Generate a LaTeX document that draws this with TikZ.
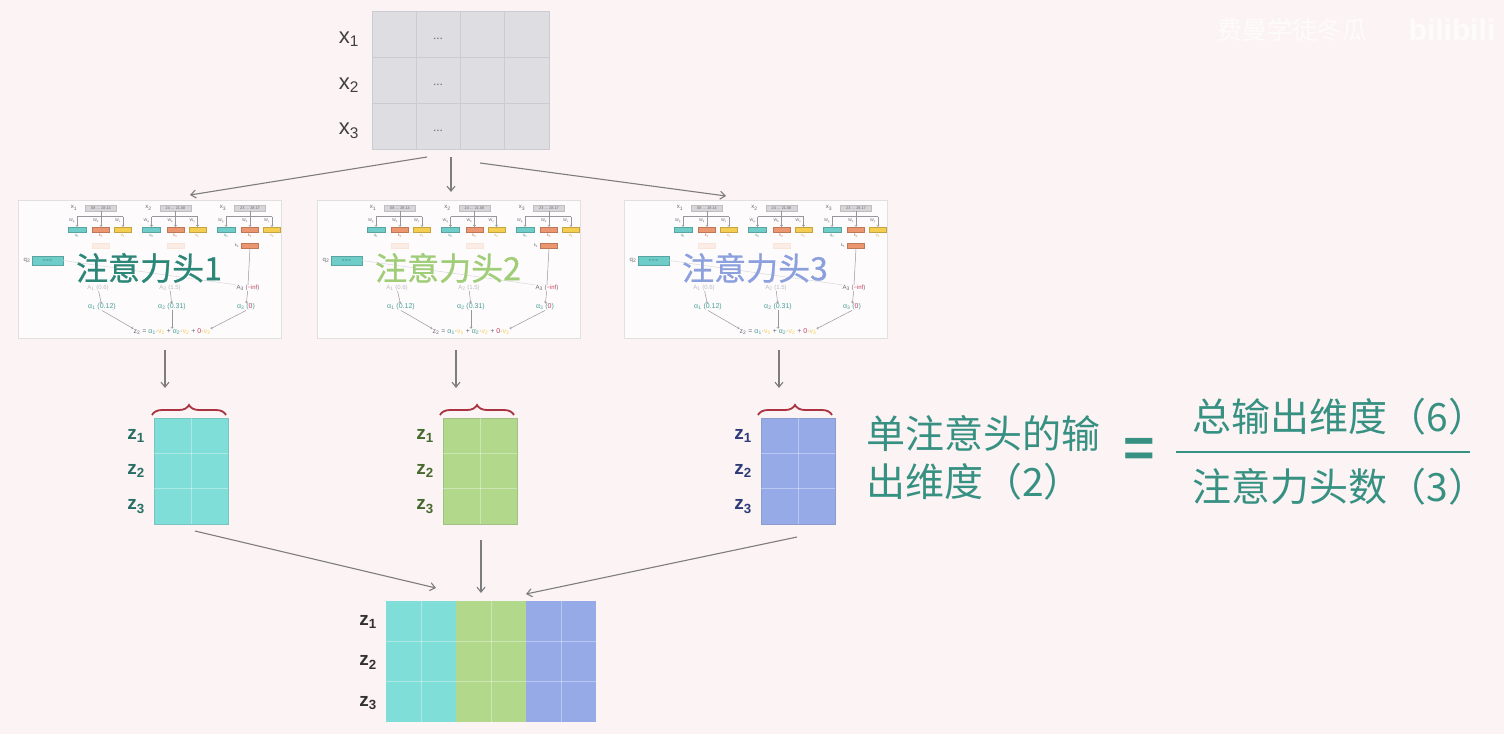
\documentclass[tikz,border=0pt]{standalone}
\usepackage{fontspec}
\setmainfont{Liberation Sans}
\newfontfamily\cjk{Noto Sans CJK SC}
\newfontfamily\cjkt[FakeBold=0.8]{Noto Sans CJK SC}
\usetikzlibrary{arrows.meta,decorations.pathreplacing,calc}
\definecolor{bgc}{RGB}{252,243,244}
\definecolor{topfill}{RGB}{222,221,226}
\definecolor{topgrid}{RGB}{204,203,209}
\definecolor{tealf}{RGB}{128,222,216}
\definecolor{greenf}{RGB}{178,216,140}
\definecolor{bluef}{RGB}{150,170,232}
\definecolor{tealtxt}{RGB}{45,135,120}
\definecolor{eqtxt}{RGB}{55,145,130}
\definecolor{greentitle}{RGB}{160,205,120}
\definecolor{bluetitle}{RGB}{140,160,222}
\definecolor{zteal}{RGB}{40,110,100}
\definecolor{zgreen}{RGB}{70,105,45}
\definecolor{zblue}{RGB}{45,60,120}
\definecolor{arrgray}{RGB}{125,125,128}
\definecolor{bracec}{RGB}{170,50,65}
\definecolor{minigray}{RGB}{105,105,115}
\definecolor{miniteal}{RGB}{110,205,200}
\definecolor{miniorange}{RGB}{235,150,110}
\definecolor{miniyellow}{RGB}{245,205,80}
\definecolor{alphateal}{RGB}{70,160,150}
\definecolor{infred}{RGB}{200,60,90}
\definecolor{xboxc}{RGB}{215,213,218}
\tikzset{
  headbox/.style={draw=black!12,fill=white!70!bgc,line width=0.8pt,minimum width=263,minimum height=138,inner sep=0},
  arr/.style={draw=arrgray,line width=1.1pt,-{Straight Barb[length=5pt,width=8pt]}},
  mline/.style={draw=minigray!70,line width=0.5pt},
  marr/.style={draw=minigray!70,line width=0.5pt,-{Straight Barb[length=1.5pt,width=2.5pt]}},
  faintl/.style={draw=minigray!25,line width=0.5pt},
  mtxt/.style={inner sep=0,font=\fontsize{6}{7}\selectfont,text=minigray},
  wtxt/.style={inner sep=0,font=\fontsize{4}{4.5}\selectfont,text=minigray},
  atxt/.style={inner sep=0,font=\fontsize{7}{8}\selectfont,text=alphateal},
  xbox/.style={fill=xboxc,draw=black!25,line width=0.3pt,minimum width=31,minimum height=5.5,inner sep=0,font=\fontsize{3.8}{4}\selectfont,text=black!60},
  qb/.style={fill=miniteal,draw=miniteal!80!black,line width=0.3pt,minimum width=18,minimum height=5,inner sep=0},
  kb/.style={fill=miniorange,draw=miniorange!80!black,line width=0.3pt,minimum width=17,minimum height=5,inner sep=0},
  vb/.style={fill=miniyellow,draw=miniyellow!80!black,line width=0.3pt,minimum width=17,minimum height=5,inner sep=0},
  kfaint/.style={fill=miniorange!18,draw=miniorange!25,line width=0.3pt,minimum width=17,minimum height=5,inner sep=0},
  htitle/.style={inner sep=0,font=\cjkt\fontsize{32}{34}\selectfont},
  toplab/.style={inner sep=0,font=\fontsize{22}{24}\selectfont,text=black!75},
  zlab/.style={inner sep=0,font=\bfseries\fontsize{19}{20}\selectfont},
  eq/.style={inner sep=0,font=\cjk\fontsize{39}{42}\selectfont,text=eqtxt},
  gridw/.style={draw=white,draw opacity=0.35,line width=0.8pt},
  bracest/.style={draw=bracec,line width=1.8pt,decorate,decoration={brace,amplitude=10pt,aspect=0.5}},
}
\newcommand\MiniHead[4]{%
\begin{scope}[shift={(#2,200)}]
\node[headbox] (#1box) at (131.5,69) {};
\foreach \i/\vals in {1/08 … 28.14,2/24 … 21.08,3/23 … 28.17}{
  \pgfmathsetmacro\g{50+74.5*(\i-1)}
  \node[mtxt] (#1xl\i) at (\g+6,8) {x\textsubscript{\i}};
  \node[xbox] (#1xb\i) at (\g+33,8) {\vals};
  \coordinate (#1bm\i) at (\g+33,16.5);
  \coordinate (#1bl\i) at (\g+9,16.5);
  \coordinate (#1br\i) at (\g+55,16.5);
  \node[qb] (#1q\i) at (\g+9,29.5) {};
  \node[kb] (#1k\i) at (\g+33,29.5) {};
  \node[vb] (#1v\i) at (\g+55,29.5) {};
  \draw[mline] (#1xb\i.south) -- (#1bm\i);
  \draw[mline] (#1bl\i) -- (#1br\i);
  \draw[marr] (#1bl\i) -- (#1q\i.north);
  \draw[marr] (#1bm\i) -- (#1k\i.north);
  \draw[marr] (#1br\i) -- (#1v\i.north);
  \node[wtxt] (#1wq\i) at (\g+4,20.5) {W\textsubscript{q}};
  \node[wtxt] (#1wk\i) at (\g+28,20.5) {W\textsubscript{k}};
  \node[wtxt] (#1wv\i) at (\g+50,20.5) {W\textsubscript{v}};
  \node[wtxt,text=miniteal!80!black] (#1ql\i) at (\g+9,36) {q\textsubscript{\i}};
  \node[wtxt,text=miniorange!80!black] (#1kl\i) at (\g+33,36) {k\textsubscript{\i}};
  \node[wtxt,text=miniyellow!80!black] (#1vl\i) at (\g+55,36) {v\textsubscript{\i}};
}
\node[kfaint] (#1kt1) at (83,45.5) {};
\node[kfaint] (#1kt2) at (157.5,45.5) {};
\node[kb] (#1kt3) at (232,45.5) {};
\node[wtxt] (#1ktl3) at (219,45.5) {k\textsubscript{3}};
\node[qb,minimum width=31,minimum height=9,font=\fontsize{4}{4}\selectfont] (#1qq) at (29.5,60.5) {– – –};
\node[mtxt] (#1qql) at (9,60.5) {q\textsubscript{2}};
\node[mtxt,text=minigray!45] (#1A1) at (80,88) {A\textsubscript{1} (0.6)};
\node[mtxt,text=minigray!45] (#1A2) at (152,88) {A\textsubscript{2} (1.5)};
\node[mtxt] (#1A3) at (230,88) {A\textsubscript{3} (\textcolor{infred}{−inf})};
\draw[faintl] (#1qq.east) -- (#1A3.north west);
\draw[mline] (#1kt3.south) -- (#1A3.north);
\node[atxt] (#1a1) at (84,107) {α\textsubscript{1} (0.12)};
\node[atxt] (#1a2) at (154,107) {α\textsubscript{2} (0.31)};
\node[atxt] (#1a3) at (228,107) {α\textsubscript{3} (\textcolor{infred}{0})};
\draw[marr] (#1A1) -- (#1a1);
\draw[marr] (#1A2) -- (#1a2);
\draw[marr] (#1A3) -- (#1a3);
\node[atxt,text=minigray] (#1z) at (154,132) {z\textsubscript{2} = \textcolor{alphateal}{α\textsubscript{1}}·\textcolor{miniyellow}{v\textsubscript{1}} + \textcolor{alphateal}{α\textsubscript{2}}·\textcolor{miniyellow}{v\textsubscript{2}} + \textcolor{infred}{0}·\textcolor{miniyellow}{v\textsubscript{3}}};
\draw[marr] (#1a1.south) -- (#1z.north west);
\draw[marr] (#1a2.south) -- (#1z.north);
\draw[marr] (#1a3.south) -- (#1z.north east);
\node[htitle,text=#4] (#1title) at (131,68) {#3};
\end{scope}}
\begin{document}
\begin{tikzpicture}[x=1pt,y=-1pt]
\fill[bgc] (0,0) rectangle (1504,734);
\useasboundingbox (0,0) rectangle (1504,734);
% watermark
\node[inner sep=0,font=\cjk\fontsize{25}{27}\selectfont,text=white,opacity=0.7] (wm) at (1292,30) {费曼学徒冬瓜};
\node[inner sep=0,font=\bfseries\fontsize{30}{32}\selectfont,text=white,opacity=0.7] (wmb) at (1452,30) {bilibili};
% top matrix
\node[fill=topfill,draw=topgrid,line width=1pt,minimum width=177,minimum height=138,inner sep=0] (topM) at (460.5,80) {};
\foreach \c in {1,2,3} \draw[topgrid,line width=1pt] (372+44.25*\c,11) -- (372+44.25*\c,149);
\foreach \r in {1,2} \draw[topgrid,line width=1pt] (372,11+46*\r) -- (549,11+46*\r);
\foreach \r in {1,2,3}{
  \node[inner sep=0,font=\fontsize{12}{12}\selectfont,text=black!60] (dots\r) at (438,11+46*\r-18) {...};
  \node[toplab] (xl\r) at (349,11+46*\r-18) {x\textsubscript{\r}};
}
% arrows from top matrix
\coordinate (ts1) at (427,157); \coordinate (te1) at (190,195);
\coordinate (ts2) at (451,157); \coordinate (te2) at (451,192);
\coordinate (ts3) at (480,163); \coordinate (te3) at (726,196);
\draw[arr] (ts1) -- (te1);
\draw[arr] (ts2) -- (te2);
\draw[arr] (ts3) -- (te3);
% heads
\MiniHead{ha}{18}{注意力头1}{tealtxt}
\MiniHead{hb}{317}{注意力头2}{greentitle}
\MiniHead{hc}{624}{注意力头3}{bluetitle}
% arrows from heads to braces
\coordinate (hs1) at (165,350); \coordinate (he1) at (165,388);
\coordinate (hs2) at (456,350); \coordinate (he2) at (456,388);
\coordinate (hs3) at (779,350); \coordinate (he3) at (779,388);
\draw[arr] (hs1) -- (he1);
\draw[arr] (hs2) -- (he2);
\draw[arr] (hs3) -- (he3);
% braces
\coordinate (b1l) at (152,415); \coordinate (b1r) at (226,415);
\coordinate (b2l) at (440,415); \coordinate (b2r) at (514,415);
\coordinate (b3l) at (758,415); \coordinate (b3r) at (832,415);
\draw[bracest] (b1l) -- (b1r);
\draw[bracest] (b2l) -- (b2r);
\draw[bracest] (b3l) -- (b3r);
% small z matrices
\foreach \k/\x/\f/\zc in {1/154/tealf/zteal,2/443/greenf/zgreen,3/761/bluef/zblue}{
  \node[fill=\f,draw=\f!85!black!90,line width=0.3pt,minimum width=74,minimum height=106,inner sep=0] (zm\k) at (\x+37,471) {};
  \draw[gridw] (\x+37,418) -- (\x+37,524);
  \draw[gridw] (\x,453.3) -- (\x+74,453.3);
  \draw[gridw] (\x,488.7) -- (\x+74,488.7);
  \foreach \r in {1,2,3}
    \node[zlab,text=\zc] (zl\k\r) at (\x-18,418+35.3*\r-17.5) {z\textsubscript{\r}};
}
% arrows to bottom matrix
\coordinate (bs1) at (195,531); \coordinate (be1) at (436,588);
\coordinate (bs2) at (481,540); \coordinate (be2) at (481,593);
\coordinate (bs3) at (797,537); \coordinate (be3) at (526,594);
\draw[arr] (bs1) -- (be1);
\draw[arr] (bs2) -- (be2);
\draw[arr] (bs3) -- (be3);
% bottom matrix
\node[fill=tealf,minimum width=70,minimum height=121,inner sep=0] (bmA) at (421,661.5) {};
\node[fill=greenf,minimum width=70,minimum height=121,inner sep=0] (bmB) at (491,661.5) {};
\node[fill=bluef,minimum width=70,minimum height=121,inner sep=0] (bmC) at (561,661.5) {};
\foreach \c in {1,3,5} \draw[gridw] (386+35*\c,601) -- (386+35*\c,722);
\foreach \r in {1,2} \draw[gridw] (386,601+40.3*\r) -- (596,601+40.3*\r);
\foreach \r in {1,2,3}
  \node[zlab,text=black!80] (bl\r) at (368,601+40.3*\r-19) {z\textsubscript{\r}};
% equation
\node[eq,anchor=west] (eqL1) at (866,433) {单注意头的输};
\node[eq,anchor=west] (eqL2) at (866,482) {出维度（2）};
\node[inner sep=0,font=\bfseries\fontsize{54}{54}\selectfont,text=eqtxt] (eqS) at (1139,452) {=};
\node[eq] (num) at (1340,417) {总输出维度（6）};
\node[eq] (den) at (1340,487) {注意力头数（3）};
\coordinate (fl) at (1176,452); \coordinate (fr) at (1470,452);
\draw[eqtxt,line width=1.3pt] (fl) -- (fr);
\end{tikzpicture}
\end{document}
